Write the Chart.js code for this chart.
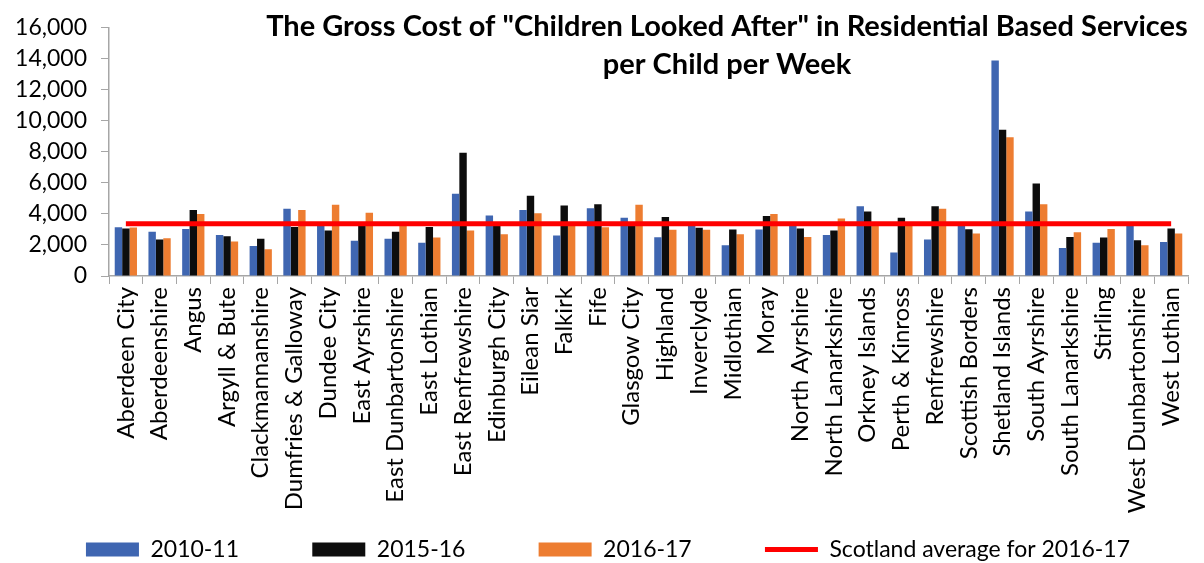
<!DOCTYPE html>
<html>
<head>
<meta charset="utf-8">
<script src="https://cdn.jsdelivr.net/npm/chart.js@4/dist/chart.umd.min.js"></script>
<style>
  html, body { margin: 0; padding: 0; background: #fff; }
  #wrap { width: 1204px; height: 563px; }
</style>
</head>
<body>
<div id="wrap"><canvas id="cost"></canvas></div>
<script>
// Weekly gross cost per child in residential based services, by council
const councils = [
  "Aberdeen City", "Aberdeenshire", "Angus", "Argyll & Bute", "Clackmannanshire",
  "Dumfries & Galloway", "Dundee City", "East Ayrshire", "East Dunbartonshire",
  "East Lothian", "East Renfrewshire", "Edinburgh City", "Eilean Siar", "Falkirk",
  "Fife", "Glasgow City", "Highland", "Inverclyde", "Midlothian", "Moray",
  "North Ayrshire", "North Lanarkshire", "Orkney Islands", "Perth & Kinross",
  "Renfrewshire", "Scottish Borders", "Shetland Islands", "South Ayrshire",
  "South Lanarkshire", "Stirling", "West Dunbartonshire", "West Lothian"
];

const cost2010 = [
  3150, 2860, 3030, 2650, 1940, 4330, 3250, 2270, 2400, 2150, 5300, 3900, 4250, 2610,
  4370, 3750, 2490, 3300, 1980, 2990, 3300, 2650, 4500, 1510, 2360, 3300, 13900, 4160,
  1810, 2150, 3300, 2190
];
const cost2015 = [
  3070, 2360, 4250, 2570, 2400, 3160, 2940, 3300, 2860, 3160, 7950, 3300, 5170, 4540,
  4630, 3300, 3800, 3110, 2990, 3870, 3060, 2940, 4160, 3750, 4500, 3020, 9430, 5970,
  2520, 2480, 2310, 3060
];
const cost2016 = [
  3130, 2440, 4000, 2230, 1730, 4250, 4590, 4080, 3350, 2480, 2940, 2690, 4040, 3250,
  3150, 4590, 2980, 2980, 2690, 4000, 2510, 3700, 3300, 3300, 4330, 2740, 8940, 4630,
  2820, 3030, 1980, 2740
];
const scotlandAvg2016 = 3370;

const yTicks = { min: 0, max: 16000, step: 2000 };
const titleLines = [
  'The Gross Cost of "Children Looked After" in Residential Based Services',
  "per Child per Week"
];

const FONT = "Lato, 'Open Sans', sans-serif";
const AXIS_GREY = "#a6a6a6";
const LEGEND_GAP = "\u2003\u2003\u2003\u2002"; // widens the first legend entries

// two-line bold heading laid over the top of the plot
const headingPlugin = {
  id: "heading",
  afterDraw(chart) {
    const { ctx, chartArea } = chart;
    const cx = chartArea.left + 618;
    ctx.save();
    ctx.fillStyle = "#000";
    ctx.font = "bold 29px " + FONT;
    ctx.textAlign = "center";
    ctx.textBaseline = "middle";
    ctx.fillText(titleLines[0], cx, 27);
    ctx.fillText(titleLines[1], cx, 65);
    ctx.restore();
  },
};

new Chart(document.getElementById("cost"), {
  type: "bar",
  data: {
    labels: councils,
    datasets: [
      {
        type: "line",
        label: "Scotland average for 2016-17",
        data: councils.map(() => scotlandAvg2016),
        borderColor: "#ff0000",
        backgroundColor: "#ff0000",
        borderWidth: 5,
        pointRadius: 0,
        order: 0,
      },
      { label: "2010-11", data: cost2010, backgroundColor: "#3f66b1", order: 1 },
      { label: "2015-16", data: cost2015, backgroundColor: "#0d0d0d", order: 1 },
      { label: "2016-17", data: cost2016, backgroundColor: "#ed7d31", order: 1 },
    ],
  },
  plugins: [headingPlugin],
  options: {
    responsive: true,
    maintainAspectRatio: false,
    animation: false,
    categoryPercentage: 0.66,
    barPercentage: 1.0,
    layout: { padding: { top: 23, right: 0, left: 12, bottom: -8 } },
    plugins: {
      legend: {
        position: "bottom",
        labels: {
          color: "#000",
          font: { family: FONT, size: 23 },
          usePointStyle: true,
          pointStyleWidth: 53,
          boxHeight: 14,
          padding: 10,
          generateLabels(chart) {
            const ds = chart.data.datasets;
            const order = [1, 2, 3, 0];
            return order.map((i) => {
              const isLine = ds[i].type === "line";
              return {
                text: isLine ? ds[i].label : ds[i].label + LEGEND_GAP,
                datasetIndex: i,
                fillStyle: ds[i].backgroundColor,
                strokeStyle: isLine ? ds[i].borderColor : ds[i].backgroundColor,
                lineWidth: isLine ? 5 : 0,
                pointStyle: isLine ? "line" : "rect",
                fontColor: "#000",
              };
            });
          },
        },
      },
      tooltip: { enabled: false },
    },
    scales: {
      x: {
        grid: {
          display: true,
          drawOnChartArea: false,
          color: AXIS_GREY,
          tickLength: 8,
          offset: true,
        },
        border: { color: AXIS_GREY, width: 1.5 },
        ticks: {
          color: "#000",
          font: { family: FONT, size: 24 },
          minRotation: 90,
          maxRotation: 90,
          autoSkip: false,
          padding: 3,
        },
        afterFit(scale) {
          scale.height = 252;
        },
      },
      y: {
        min: yTicks.min,
        max: yTicks.max,
        grid: {
          display: true,
          drawOnChartArea: false,
          color: AXIS_GREY,
          tickLength: 8,
        },
        border: { color: AXIS_GREY, width: 1.5 },
        ticks: {
          stepSize: yTicks.step,
          autoSkip: false,
          color: "#000",
          font: { family: FONT, size: 23 },
          padding: 14,
          callback: (v) => v.toLocaleString("en-US"),
        },
        afterFit(scale) {
          scale.width = 97;
        },
      },
      // empty strip on the right so the plot stops short of the edge
      gutter: {
        position: "right",
        grid: { display: false },
        border: { display: false },
        ticks: { display: false },
        afterFit(scale) {
          scale.width = 16;
        },
      },
    },
  },
});
</script>
</body>
</html>
